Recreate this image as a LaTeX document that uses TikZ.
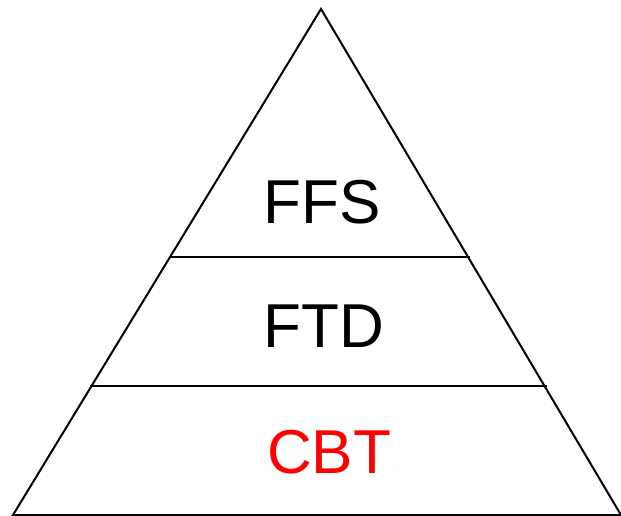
\documentclass[tikz,border=0pt]{standalone}
\usepackage{fontspec}
\setmainfont{Liberation Sans}
\begin{document}
\begin{tikzpicture}[x=1pt,y=-1pt,
  edge/.style={line width=2pt, line join=miter},
  label/.style={font=\fontsize{62}{62}\selectfont, inner sep=0pt, anchor=base}]
  \useasboundingbox (0,0) rectangle (621,516);
  % pyramid outline
  \coordinate (apex) at (321,9);
  \coordinate (bl) at (13,515);
  \coordinate (br) at (621,515);
  \draw[edge] (bl) -- (apex) -- (br) -- cycle;
  % tier dividers
  \coordinate (d1l) at (171,257);
  \coordinate (d1r) at (470,257);
  \coordinate (d2l) at (90,386);
  \coordinate (d2r) at (547,386);
  \draw[edge] (d1l) -- (d1r);
  \draw[edge] (d2l) -- (d2r);
  % tier labels
  \node[label] (ffs) at (322.5,223) {FFS};
  \node[label] (ftd) at (324,347) {FTD};
  \node[label, text=red] (cbt) at (329,473) {CBT};
\end{tikzpicture}
\end{document}
